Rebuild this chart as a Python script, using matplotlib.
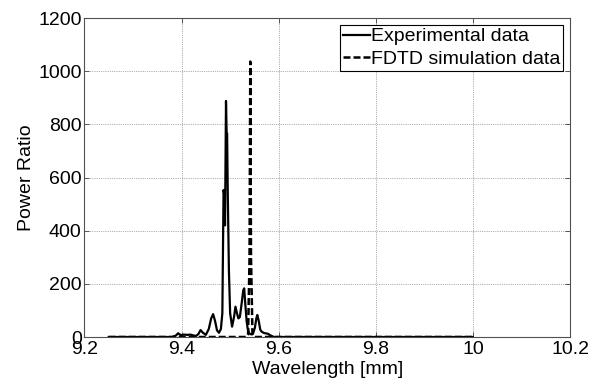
import numpy as np
import matplotlib.pyplot as plt

plt.rcParams['font.family'] = ['Liberation Sans', 'DejaVu Sans']

# Experimental spectrum (wavelength in mm, power ratio)
wl_exp = [9.25, 9.38, 9.388, 9.393, 9.398, 9.405, 9.412, 9.418, 9.424, 9.430,
          9.435, 9.439, 9.444, 9.450, 9.456, 9.461, 9.465, 9.469, 9.473, 9.477,
          9.481, 9.484, 9.4865, 9.4875, 9.4895, 9.4915, 9.4928, 9.4938, 9.495, 9.4975,
          9.500, 9.504, 9.508, 9.511, 9.514, 9.517, 9.520, 9.524, 9.527, 9.529,
          9.531, 9.534, 9.536, 9.539, 9.543, 9.547, 9.551, 9.554, 9.556, 9.559,
          9.562, 9.565, 9.570, 9.578, 9.583, 9.588, 9.59, 10.0]
pr_exp = [0, 0, 5, 14, 7, 9, 8, 9, 6, 4,
          12, 26, 16, 8, 30, 70, 86, 60, 25, 16,
          30, 90, 553, 540, 420, 888, 770, 766, 560, 250,
          90, 39, 75, 114, 90, 70, 75, 130, 175, 183,
          130, 60, 33, 14, 10, 12, 35, 70, 83, 60,
          28, 20, 15, 12, 6, 2, 0, 0]

# FDTD simulation, a single sharp resonance
wl_sim = [9.25, 9.533, 9.537, 9.540, 9.5415, 9.543, 9.546, 9.55, 10.0]
pr_sim = [0, 0, 10, 300, 1036, 300, 10, 0, 0]

xticks = [9.2, 9.4, 9.6, 9.8, 10, 10.2]
xtick_labels = ['9.2', '9.4', '9.6', '9.8', '10', '10.2']
yticks = [0, 200, 400, 600, 800, 1000, 1200]

fs = 14

fig = plt.figure(figsize=(5.99, 3.83), dpi=100)
ax = fig.add_axes([0.141, 0.1201, 0.8106, 0.8329])

ax.plot(wl_exp, pr_exp, 'k-', linewidth=1.6, label='Experimental data')
line_sim, = ax.plot(wl_sim, pr_sim, 'k--', linewidth=1.8, label='FDTD simulation data')
line_sim.set_dashes([2.8, 1.2])

ax.set_xlim(9.2, 10.2)
ax.set_ylim(0, 1200)
ax.set_xticks(xticks)
ax.set_xticklabels(xtick_labels)
ax.set_yticks(yticks)
ax.tick_params(direction='in', top=True, right=True, length=3.5, width=0.6,
               labelsize=fs, pad=3, color='#404040')
ax.tick_params(axis='y', pad=2)

ax.grid(True, linestyle=':', linewidth=0.5, color='#666666')
for s in ax.spines.values():
    s.set_color('#505050')
    s.set_linewidth(0.8)

ax.set_xlabel('Wavelength [mm]', fontsize=fs, labelpad=2)
ax.set_ylabel('Power Ratio', fontsize=fs, labelpad=2)

leg = ax.legend(loc='upper right', fontsize=fs, fancybox=False, framealpha=1,
                edgecolor='black', handlelength=1.4, handletextpad=0.05,
                labelspacing=0.25, borderpad=0.15, borderaxespad=0.35)
leg.get_frame().set_linewidth(0.8)

fig.savefig('out.png', dpi=100)
